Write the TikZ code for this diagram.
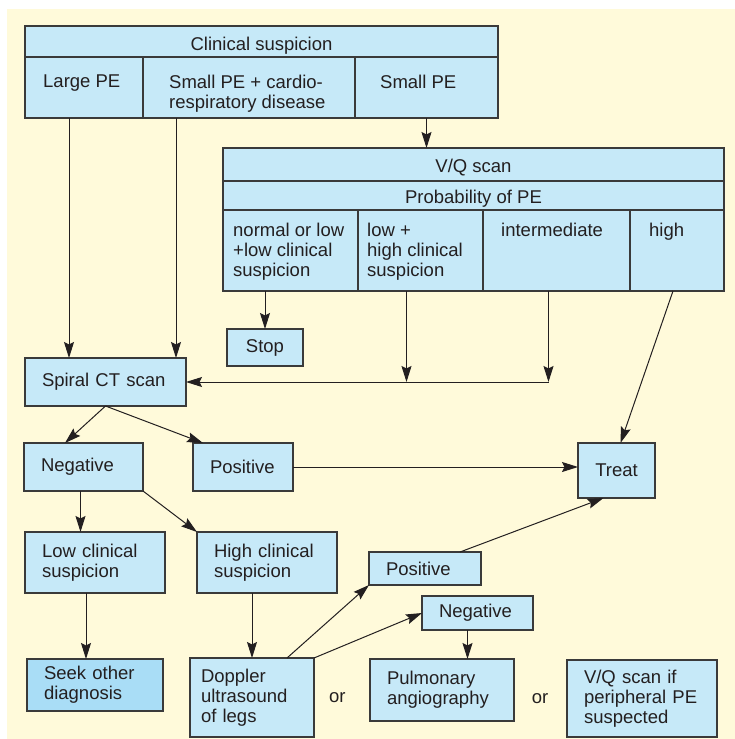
\documentclass[tikz,border=0pt]{standalone}
\usepackage{fontspec}
\setmainfont{Liberation Sans}
\usepackage{xcolor}
\usepackage{tikz}
\usetikzlibrary{arrows.meta, positioning}
\definecolor{cream}{HTML}{FFFADA}
\definecolor{boxblue}{HTML}{C6E9F8}
\definecolor{seekblue}{HTML}{A9DDF6}
\definecolor{edgegray}{HTML}{3A3A3A}
\definecolor{ink}{HTML}{231F20}
\newcommand{\flowfont}{\fontsize{18.5}{20}\selectfont}
\tikzset{
  cell/.style={rectangle, draw=edgegray, line width=1.2pt, fill=boxblue, anchor=north west, inner sep=0pt, outer sep=0pt, text=ink, font=\flowfont},
  celltext/.style={anchor=north west, inner sep=0pt, align=left, text=ink, font=\flowfont},
  box/.style={rectangle, draw=edgegray, line width=1.2pt, fill=boxblue, anchor=north west, align=left, inner xsep=17pt, inner ysep=0pt, outer sep=0pt, text=ink, font=\flowfont},
  plain/.style={text=ink, font=\flowfont, inner sep=0pt},
  arr/.style={-{Stealth[length=16pt,width=10pt,inset=2.5pt]}, line width=1pt, draw=ink},
}
\begin{document}
\begin{tikzpicture}[x=1pt, y=-1pt]
\useasboundingbox (0,0) rectangle (735,739);
\fill[cream] (7,9) rectangle (735,739);

\node[cell, minimum width=473pt, minimum height=31pt, text height=17pt, text depth=0pt] (clin) at (25,26) {Clinical suspicion};
\node[cell, minimum width=118pt, minimum height=61pt] (large) at (25,57) {};
\node[cell, minimum width=212pt, minimum height=61pt] (cardio) at (143,57) {};
\node[cell, minimum width=143pt, minimum height=61pt] (small) at (355,57) {};
\node[celltext, below right=18pt and 18pt of large.north west] (largetxt) {Large PE};
\node[celltext, below right=18pt and 26pt of cardio.north west] (cardiotxt) {Small PE + cardio-\\respiratory disease};
\node[celltext, below right=18pt and 25pt of small.north west] (smalltxt) {Small PE};

\node[cell, minimum width=501pt, minimum height=33pt, text height=15pt, text depth=0pt] (vq) at (223,148) {V/Q scan};
\node[cell, minimum width=501pt, minimum height=29pt, text height=15pt, text depth=0pt] (prob) at (223,181) {Probability of PE};
\node[cell, minimum width=135pt, minimum height=81pt] (c1) at (223,210) {};
\node[cell, minimum width=125pt, minimum height=81pt] (c2) at (358,210) {};
\node[cell, minimum width=147pt, minimum height=81pt] (c3) at (483,210) {};
\node[cell, minimum width=94pt, minimum height=81pt] (c4) at (630,210) {};
\node[celltext, below right=13pt and 10pt of c1.north west] (c1txt) {normal or low\\+low clinical\\suspicion};
\node[celltext, below right=13pt and 9pt of c2.north west] (c2txt) {low +\\high clinical\\suspicion};
\node[celltext, below right=13pt and 18pt of c3.north west] (c3txt) {intermediate};
\node[celltext, below right=13pt and 19pt of c4.north west] (c4txt) {high};

\node[cell, minimum width=76pt, minimum height=37pt] (stop) at (227,329) {Stop};
\node[box, minimum width=161pt, text width=127pt, minimum height=48pt] (spiral) at (25,358) {Spiral CT scan};
\node[box, minimum width=119pt, text width=85pt, minimum height=48pt] (neg) at (24,443) {Negative};
\node[box, minimum width=100pt, text width=66pt, minimum height=48pt] (pos) at (193,443) {Positive};
\node[cell, minimum width=77pt, minimum height=55pt] (treat) at (578,443) {Treat};
\node[box, minimum width=140pt, text width=106pt, minimum height=61pt] (low) at (25,532) {Low clinical\\suspicion};
\node[box, minimum width=140pt, text width=106pt, minimum height=61pt] (high) at (197,532) {High clinical\\suspicion};
\node[box, fill=seekblue, minimum width=136pt, text width=102pt, minimum height=52pt] (seek) at (27,659) {Seek other\\diagnosis};
\node[box, inner xsep=11pt, minimum width=124pt, text width=102pt, minimum height=79pt] (doppler) at (190,658) {Doppler\\ultrasound\\of legs};
\node[box, minimum width=112pt, text width=78pt, minimum height=33pt] (pos2) at (369,552) {Positive};
\node[box, minimum width=111pt, text width=77pt, minimum height=34pt] (neg2) at (422,596) {Negative};
\node[box, minimum width=144pt, text width=110pt, minimum height=62pt] (pulm) at (370,659) {Pulmonary\\angiography};
\node[box, minimum width=150pt, text width=116pt, minimum height=77pt] (vqif) at (567,660) {V/Q scan if\\peripheral PE\\suspected};
\node[plain, right=15pt of doppler] (or1) {or};
\node[plain] (or2) at (540,699) {or};

\draw[arr] ([xshift=44pt]spiral.north west |- large.south) -- ([xshift=44pt]spiral.north west);
\draw[arr] ([xshift=-10pt]spiral.north east |- cardio.south) -- ([xshift=-10pt]spiral.north east);
\draw[arr] (small.south) -- (small.south |- vq.north);
\draw[arr] (stop.north |- c1.south) -- (stop.north);
\coordinate (merge) at ([xshift=-8pt]c3.south |- spiral.east);
\draw[arr] ([xshift=-8pt]c3.south) -- (merge);
\draw[arr] ([xshift=-14pt]c2.south) -- ([xshift=-14pt]c2.south |- merge);
\draw[arr] (merge) -- (spiral.east);
\draw[arr] ([xshift=-4pt]c4.south) -- ([xshift=4pt]treat.north);
\draw[arr] (spiral.south) -- ([xshift=41pt]neg.north west);
\draw[arr] (spiral.south) -- ([xshift=10pt]pos.north west);
\draw[arr] (pos.east) -- (pos.east -| treat.west);
\draw[arr] ([xshift=-3pt]neg.south) -- ([xshift=-3pt]neg.south |- low.north);
\draw[arr] (neg.south east) -- (high.north west);
\draw[arr] ([xshift=-9pt]low.south) -- ([xshift=-9pt]low.south |- seek.north);
\draw[arr] (doppler.north |- high.south) -- (doppler.north);
\draw[arr] ([xshift=-27pt]doppler.north east) -- (pos2.south west);
\draw[arr] (doppler.north east) -- (neg2.west);
\draw[arr] ([xshift=-10pt]neg2.south) -- ([xshift=-10pt]neg2.south |- pulm.north);
\draw[arr] ([xshift=-21pt]pos2.north east) -- ([xshift=-13pt]treat.south);
\end{tikzpicture}
\end{document}
